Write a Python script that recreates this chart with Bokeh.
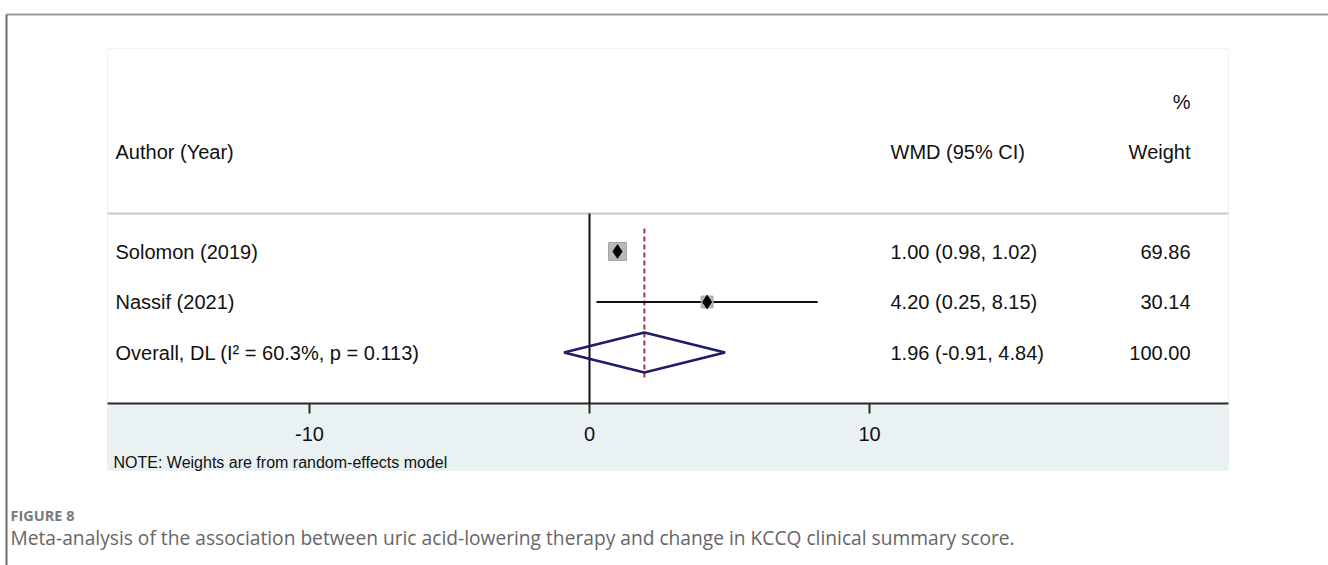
from bokeh.plotting import figure
from bokeh.models import Range1d, ColumnDataSource
from bokeh.core.properties import value
from bokeh.embed import file_html
from bokeh.resources import INLINE
import numpy as np

# ---- data -------------------------------------------------------------
studies = ["Solomon (2019)", "Nassif (2021)"]
wmd = [1.00, 4.20]
ci_low = [0.98, 0.25]
ci_high = [1.02, 8.15]
weights = [69.86, 30.14]

overall_label = "Overall, DL (I\u00b2 = 60.3%, p = 0.113)"
overall_est = 1.96
overall_low = -0.91
overall_high = 4.84
overall_weight = 100.00

x_ticks = [-10, 0, 10]

caption_tag = "FIGURE 8"
caption_text = ("Meta-analysis of the association between uric acid-lowering therapy "
                "and change in KCCQ clinical summary score.")
note_text = "NOTE: Weights are from random-effects model"

# ---- layout constants (pixels) ---------------------------------------
W, H = 1328, 565
X0_PX = 589          # pixel position of effect = 0
PX_PER_UNIT = 28.0   # pixels per WMD unit
PANEL_L, PANEL_R, PANEL_T, PANEL_B = 107, 1228, 48, 470
HEADER_LINE_Y = 213
AXIS_Y = 403
ROW0_Y = 251
ROW_GAP = 50.5
FONT = "Liberation Sans"


def px(x):
    """pixel column -> data x"""
    return (x - X0_PX) / PX_PER_UNIT


p = figure(width=W, height=H, output_backend="svg", toolbar_location=None,
           x_range=Range1d(px(0), px(W)), y_range=Range1d(H, 0),
           x_axis_type=None, y_axis_type=None, min_border=0,
           outline_line_color=None, background_fill_color="white",
           border_fill_color="white")
p.grid.visible = False

# outer frame lines
p.segment(x0=[px(6), px(6)], y0=[14, 14], x1=[px(W), px(6)], y1=[14, H],
          line_color=["#9a9a9a", "#6a6a6a"], line_width=2)

# panel and axis band
p.quad(left=px(PANEL_L), right=px(PANEL_R), top=PANEL_T, bottom=PANEL_B,
       fill_color="white", line_color="#edf3f3", line_width=1)
p.quad(left=px(PANEL_L), right=px(PANEL_R), top=AXIS_Y, bottom=PANEL_B,
       fill_color="#e9f1f2", line_color=None)

# header separator
p.segment(x0=px(PANEL_L), x1=px(PANEL_R), y0=HEADER_LINE_Y, y1=HEADER_LINE_Y,
          line_color="#c8c8c8", line_width=2)

# x axis with ticks
p.segment(x0=px(PANEL_L), x1=px(PANEL_R), y0=AXIS_Y, y1=AXIS_Y,
          line_color="#2a2a2a", line_width=2)
p.segment(x0=x_ticks, x1=x_ticks, y0=[AXIS_Y] * len(x_ticks),
          y1=[AXIS_Y + 10] * len(x_ticks), line_color="#2a2a2a", line_width=2)
p.text(x=x_ticks, y=[433] * len(x_ticks), text=[str(t) for t in x_ticks],
       text_align="center", text_baseline="middle", text_font=value(FONT),
       text_font_size="20px", text_color="#111111")

# null-effect line
p.segment(x0=0, x1=0, y0=HEADER_LINE_Y, y1=AXIS_Y, line_color="#111111", line_width=2)

# study rows
n = len(studies)
row_y = [ROW0_Y + i * ROW_GAP for i in range(n)]
overall_y = ROW0_Y + n * ROW_GAP

# pooled estimate reference line
p.segment(x0=overall_est, x1=overall_est, y0=228, y1=377,
          line_color="#b0303e", line_width=2, line_dash="5 3")

src = ColumnDataSource(dict(
    y=row_y, est=wmd, lo=ci_low, hi=ci_high,
    box=[18.0 * np.sqrt(w / max(weights)) for w in weights],
))
p.segment(x0="lo", x1="hi", y0="y", y1="y", source=src,
          line_color="#111111", line_width=2.2)
p.scatter(x="est", y="y", size="box", marker="square", source=src,
          fill_color="#b9b9b9", line_color="#a5a5a5", line_width=1)
p.scatter(x="est", y="y", size=13.5, marker="diamond", source=src,
          fill_color="black", line_color="black")

# overall diamond
half_h = 20
p.patch(x=[overall_low, overall_est, overall_high, overall_est],
        y=[overall_y, overall_y - half_h, overall_y, overall_y + half_h],
        fill_color=None, line_color="#1c1c6c", line_width=2.5)

# ---- text columns -----------------------------------------------------
txt = dict(text_font=value(FONT), text_font_size="20px", text_color="#111111",
           text_baseline="middle")

labels = studies + [overall_label]
all_y = row_y + [overall_y]
ci_text = [f"{e:.2f} ({l:.2f}, {h:.2f})" for e, l, h in zip(wmd, ci_low, ci_high)]
ci_text.append(f"{overall_est:.2f} ({overall_low:.2f}, {overall_high:.2f})")
wt_text = [f"{w:.2f}" for w in weights] + [f"{overall_weight:.2f}"]

p.text(x=[px(115)] * len(labels), y=all_y, text=labels, text_align="left", **txt)
p.text(x=[px(890)] * len(ci_text), y=all_y, text=ci_text, text_align="left", **txt)
p.text(x=[px(1190)] * len(wt_text), y=all_y, text=wt_text, text_align="right", **txt)

# column headers
p.text(x=[px(115), px(890), px(1190)], y=[151, 151, 151],
       text=["Author (Year)", "WMD (95% CI)", "Weight"],
       text_align=["left", "left", "right"], **txt)
p.text(x=[px(1190)], y=[101], text=["%"], text_align="right", **txt)

# footnote
p.text(x=[px(113)], y=[462], text=[note_text], text_align="left",
       text_font=value(FONT), text_font_size="16px", text_color="#111111",
       text_baseline="middle")

# figure caption
p.text(x=[px(10)], y=[515], text=[caption_tag], text_align="left",
       text_font=value("Open Sans"), text_font_size="14.5px", text_font_style="bold",
       text_color="#7a7a7a", text_baseline="middle")
p.text(x=[px(10)], y=[537], text=[caption_text], text_align="left",
       text_font=value("Open Sans"), text_font_size="19.2px", text_color="#666666",
       text_baseline="middle")

open("out.html", "w").write(file_html(p, INLINE))
